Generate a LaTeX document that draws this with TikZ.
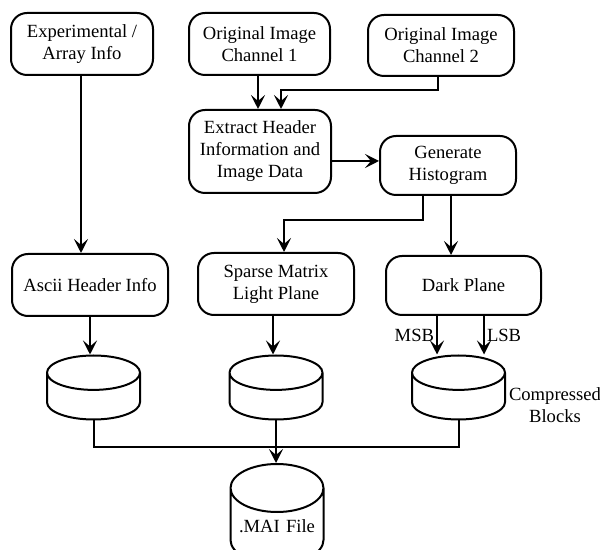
\documentclass[tikz,border=0pt]{standalone}
\usepackage{fontspec}
\setmainfont{Liberation Serif}
\usepackage{tikz}
\usetikzlibrary{positioning,arrows.meta,shapes.geometric}

\begin{document}
\begin{tikzpicture}[
        x=0.5pt, y=-0.5pt,
        box/.style={draw, rounded corners=8pt, align=center, line width=1pt, minimum width=71pt, minimum height=31pt, inner sep=2pt, font=\fontsize{9.3}{11}\selectfont},
        store/.style={draw, cylinder, shape border rotate=90, aspect=0.43, anchor=shape center, text width=40pt, align=center, minimum width=46.5pt, minimum height=32pt, line width=1pt, inner sep=0pt, font=\fontsize{9.3}{11}\selectfont},
        lbl/.style={align=center, inner sep=0pt, font=\fontsize{9.3}{11}\selectfont},
        link/.style={-{Stealth[length=7pt, width=7pt, inset=3pt]}, line width=1pt},
        wire/.style={line width=1pt}
    ]
        \useasboundingbox (0,0) rectangle (600,550);

        \node[box] (exp) at (82,44) {Experimental /\\Array Info};
        \node[box, minimum width=70.5pt] (chA) at (259.5,44) {Original Image\\Channel 1};
        \node[box, minimum width=73pt, minimum height=30.5pt] (chB) at (441,45.5) {Original Image\\Channel 2};
        \node[box, minimum height=41.5pt] (extract) at (260,151.5) {Extract Header\\Information and\\Image Data};
        \node[box, minimum width=68pt, minimum height=29.5pt] (hist) at (448,165.5) {Generate\\Histogram};

        \node[box, minimum width=78pt] (ascii) at (90,285) {Ascii Header Info};
        \node[box, minimum width=78pt] (sparse) at (276,284) {Sparse Matrix\\Light Plane};
        \node[box, minimum width=77.5pt, minimum height=29.5pt] (dark) at (463.5,285.5) {Dark Plane};

        \node[store] (dbA) at (93.5,387.5) {};
        \node[store] (dbB) at (276,387.5) {};
        \node[store] (dbC) at (458.5,387.5) {};
        \node[store, aspect=0.6, minimum height=50pt] (mai) at (277,514) {.MAI File};
        \node[lbl] (blocks) at (555,405) {Compressed\\Blocks};

        \draw[link] (exp.south -| 81,0) -- (ascii.north -| 81,0);
        \draw[link] (chA.south -| 258,0) -- (extract.north -| 258,0);
        \draw[link] (chB.south -| 438,0) -- (438,90) -| (extract.north -| 281,0);
        \draw[link] (extract.east |- 0,161) -- (hist.west |- 0,161);
        \draw[link] (hist.south -| 423,0) -- (423,220) -| (sparse.north -| 284,0);
        \draw[link] (hist.south -| 451,0) -- (dark.north -| 451,0);

        \draw[link] (ascii.south) -- (ascii.south |- dbA.north);
        \draw[link] (sparse.south -| 273,0) -- (dbB.north -| 273,0);
        \draw[link] (dark.south -| 437,0) -- node[lbl, left=1pt, pos=0.5] {MSB} (dbC.north -| 437,0);
        \draw[link] (dark.south -| 484,0) -- node[lbl, right=1pt, pos=0.5] {LSB} (dbC.north -| 484,0);

        \draw[wire] (dbA.south) -- (93.5,447) -- (458.5,447) -- (dbC.south);
        \draw[link] (dbB.south) -- (dbB.south |- mai.north);
    \end{tikzpicture}
\end{document}
